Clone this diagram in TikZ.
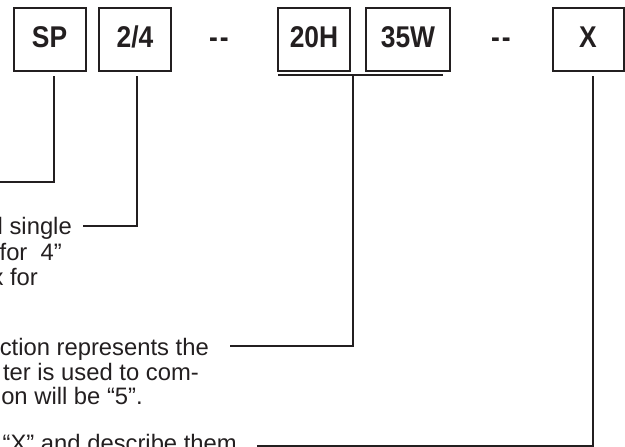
\documentclass[tikz,border=0pt]{standalone}
\usepackage{fontspec}
\usepackage{tikz}
\setmainfont{Liberation Sans}
\newfontfamily\condbold{Liberation Sans}[FakeStretch=0.88]
\definecolor{ink}{HTML}{231F20}
\tikzset{
    code/.style={draw=ink, line width=2pt, outer sep=0pt, inner sep=0pt,
        minimum width=72pt, minimum height=63pt, text height=21pt, text depth=4pt,
        text=ink, font=\condbold\bfseries\fontsize{30}{30}\selectfont},
    sep/.style={anchor=base, inner sep=0pt, text=ink,
        font=\condbold\bfseries\fontsize{30}{30}\selectfont},
    lead/.style={draw=ink, line width=2pt},
    note/.style={anchor=base east, inner sep=0pt, text=ink,
        font=\fontsize{23.8}{25}\selectfont}
}
\begin{document}
\begin{tikzpicture}[x=1pt,y=-1pt]
        \useasboundingbox (0,0) rectangle (625,447);
        \clip (0,0) rectangle (625,447);
        \node[code] (boxSP) at (49.5,39.5) {SP};
        \node[code] (box24) at (135,39.5) {2/4};
        \node[sep] (dashA) at (219,48) {-\kern2pt-};
        \node[code] (boxH) at (314,39.5) {20H};
        \node[code, minimum width=84pt] (boxW) at (408,39.5) {35W};
        \node[sep] (dashB) at (501,48) {-\kern2pt-};
        \node[code, minimum width=71pt] (boxX) at (588,39.5) {X};
        \node[note] (noteA) at (72,234) {l single};
        \node[note] (noteB) at (62,260) {for\ \ 4”};
        \node[note] (noteC) at (38,285) {x for};
        \node[note] (noteD) at (209,355) {ction represents the};
        \node[note] (noteE) at (199,380) {ter is used to com-};
        \node[note] (noteF) at (143,404) {on will be “5”.};
        \node[note] (noteG) at (237,451) {“X” and describe them};
        \coordinate (endSP) at (-5,182);
        \coordinate (end24) at (83,226);
        \coordinate (topHW) at (353,75.3);
        \coordinate (endHW) at (230,346);
        \coordinate (endX) at (257,445.5);
        \draw[lead] ([xshift=4pt,yshift=-5pt]boxSP.south) |- (endSP);
        \draw[lead] ([xshift=2.3pt,yshift=-5pt]box24.south) |- (end24);
        \draw[lead] ([yshift=-4.3pt]boxH.south west) -- ([xshift=-7pt,yshift=-4.3pt]boxW.south east);
        \draw[lead] (topHW) |- (endHW);
        \draw[lead] ([xshift=4.7pt,yshift=-5pt]boxX.south) |- (endX);
    \end{tikzpicture}
\end{document}
